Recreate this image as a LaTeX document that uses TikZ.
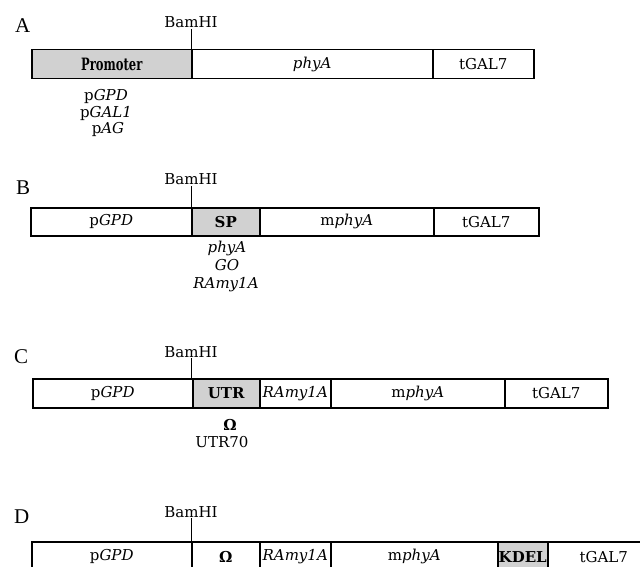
\documentclass[tikz,border=0pt]{standalone}
\usepackage{fontspec}
\setmainfont{DejaVu Serif}
\newfontfamily\panelfont{Liberation Serif}
\newcommand\fs{\fontsize{15}{18}\selectfont}
\tikzset{
  seg/.style={draw=black, line width=1.5pt, inner sep=0pt, minimum height=29pt, anchor=north west, font=\fs},
  shaded/.style={fill=black!18},
  lab/.style={inner sep=0pt, anchor=base, font=\fs},
  panel/.style={inner sep=0pt, anchor=base west, font=\panelfont\fontsize{21}{24}\selectfont},
  tickline/.style={line width=0.8pt}
}
\begin{document}
\begin{tikzpicture}[x=1pt,y=-1pt]
\useasboundingbox (0,0) rectangle (640,567);
\clip (0,0) rectangle (640,567);

% ---------- A ----------
\node[panel] (pA) at (15,33) {A};
\node[lab] (bamA) at (191,28) {BamHI};
\node[seg, shaded, minimum width=160pt] (aP) at (31,49) {\scalebox{0.68}[1]{\fontsize{17}{20}\selectfont\bfseries Promoter}};
\node[seg, minimum width=241pt] (aG) at (191,49) {\itshape phyA};
\node[seg, minimum width=101pt] (aT) at (432,49) {tGAL7};
\coordinate (tA) at (191,29);
\draw[tickline] (tA) -- (tA |- aP.north);
\node[lab] (a1) at (106,101) {p\textit{GPD}};
\node[lab] (a2) at (106,118) {p\textit{GAL1}};
\node[lab] (a3) at (108,134) {p\textit{AG}};

% ---------- B ----------
\node[panel] (pB) at (16,194) {B};
\node[lab] (bamB) at (191,185) {BamHI};
\node[seg, minimum width=161pt, minimum height=28pt] (bP) at (30,207) {p\textit{GPD}};
\node[seg, shaded, minimum width=68pt, minimum height=28pt] (bS) at (191,207) {\bfseries SP};
\node[seg, minimum width=174pt, minimum height=28pt] (bG) at (259,207) {m\textit{phyA}};
\node[seg, minimum width=105pt, minimum height=28pt] (bT) at (433,207) {tGAL7};
\coordinate (tB) at (191,186);
\draw[tickline] (tB) -- (tB |- bP.north);
\node[lab] (b1) at (227,252) {\itshape phyA};
\node[lab] (b2) at (227,270) {\itshape GO};
\node[lab] (b3) at (226,288) {\itshape RAmy1A};

% ---------- C ----------
\node[panel] (pC) at (14,363) {C};
\node[lab] (bamC) at (191,357) {BamHI};
\node[seg, minimum width=160pt] (cP) at (32,378) {p\textit{GPD}};
\node[seg, shaded, minimum width=67pt] (cU) at (192,378) {\bfseries UTR};
\node[seg, minimum width=71pt] (cR) at (259,378) {\itshape RAmy1A};
\node[seg, minimum width=174pt] (cG) at (330,378) {m\textit{phyA}};
\node[seg, minimum width=103pt] (cT) at (504,378) {tGAL7};
\coordinate (tC) at (191,358);
\draw[tickline] (tC) -- (tC |- cP.north);
\node[lab] (c1) at (230,430) {\bfseries Ω};
\node[lab] (c2) at (222,447) {UTR70};

% ---------- D ----------
\node[panel] (pD) at (14,523) {D};
\node[lab] (bamD) at (191,517) {BamHI};
\node[seg, minimum width=160pt, minimum height=30pt] (dP) at (31,541) {p\textit{GPD}};
\node[seg, minimum width=68pt, minimum height=30pt] (dO) at (191,541) {\bfseries Ω};
\node[seg, minimum width=71pt, minimum height=30pt] (dR) at (259,541) {\itshape RAmy1A};
\node[seg, minimum width=167pt, minimum height=30pt] (dG) at (330,541) {m\textit{phyA}};
\node[seg, shaded, minimum width=50pt, minimum height=30pt] (dK) at (497,541) {\bfseries KDEL};
\node[seg, minimum width=112pt, minimum height=30pt] (dT) at (547,541) {tGAL7};
\coordinate (tD) at (191,518);
\draw[tickline] (tD) -- (tD |- dP.north);
\end{tikzpicture}
\end{document}
